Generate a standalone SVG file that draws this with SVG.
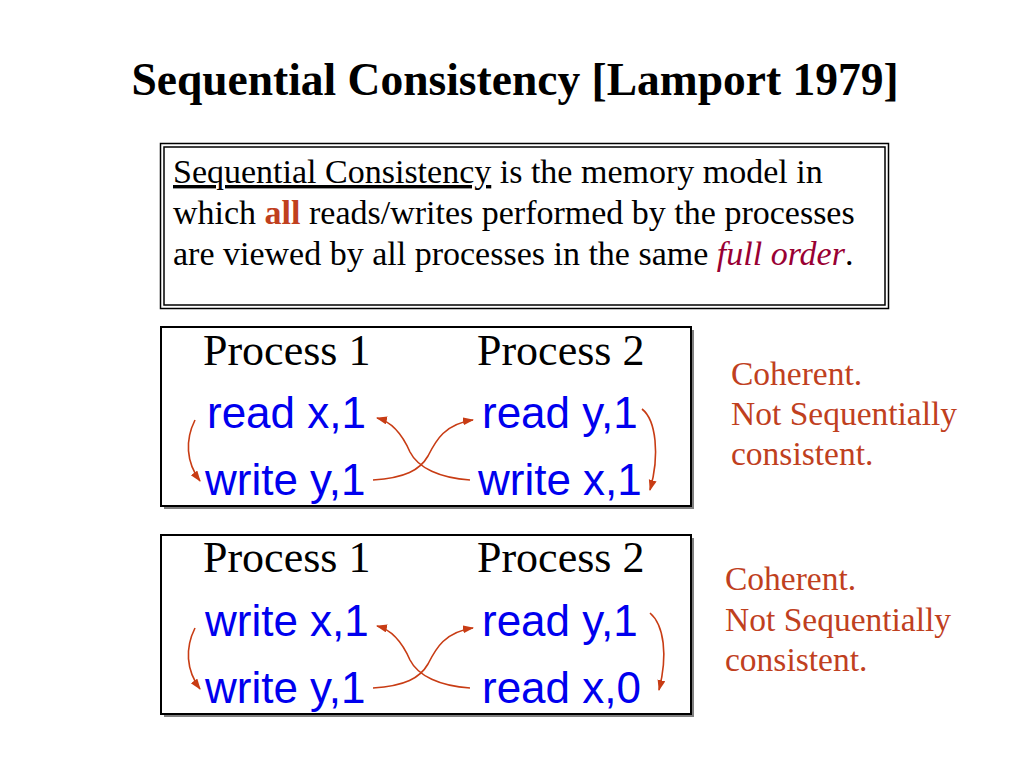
<svg xmlns="http://www.w3.org/2000/svg" width="1024" height="768" viewBox="0 0 1024 768">
<defs>
<marker id="ah" markerUnits="userSpaceOnUse" markerWidth="12" markerHeight="10" refX="10" refY="4" orient="auto">
<path d="M0,0 L11,4 L0,8 z" fill="#c83c14"/>
</marker>
<style>
.serif{font-family:"Liberation Serif","Times New Roman",serif}
.sans{font-family:"Liberation Sans",Arial,sans-serif}
.op{fill:#0000ee;font-size:44px}
.proc{fill:#000;font-size:44px}
.note{fill:#c0401e;font-size:33.5px}
.para{fill:#000;font-size:34px}
.arr{fill:none;stroke:#c83c14;stroke-width:1.6;marker-end:url(#ah)}
.shadow{fill:#808080}
.box{fill:#fff;stroke:#000;stroke-width:2}
</style>
</defs>
<rect width="1024" height="768" fill="#fff"/>
<g id="title">
<text class="serif" x="515" y="95" text-anchor="middle" font-size="45.5" font-weight="bold">Sequential Consistency [Lamport 1979]</text>
</g>
<g id="definition">
<rect x="160.5" y="143.5" width="728" height="165" fill="#fff" stroke="#000" stroke-width="1.5"/>
<rect x="164" y="147" width="721" height="158" fill="none" stroke="#000" stroke-width="1.5"/>
<text class="serif para" x="173" y="183"><tspan text-decoration="underline">Sequential Consistency</tspan> is the memory model in</text>
<text class="serif para" x="173" y="224">which <tspan font-weight="bold" fill="#c0401e">all</tspan> reads/writes performed by the processes</text>
<text class="serif para" x="173" y="265">are viewed by all processes in the same <tspan font-style="italic" fill="#990033">full order</tspan>.</text>
</g>
<g id="example1">
<rect class="shadow" x="164" y="330" width="530" height="179"/>
<rect class="box" x="161" y="327" width="530" height="179"/>
<text class="serif proc" x="203" y="365">Process 1</text>
<text class="serif proc" x="477" y="365">Process 2</text>
<text class="sans op" x="207" y="428">read x,1</text>
<text class="sans op" x="205" y="495">write y,1</text>
<text class="sans op" x="482" y="428">read y,1</text>
<text class="sans op" x="478" y="495">write x,1</text>
</g>
<g id="example2">
<rect class="shadow" x="164" y="538" width="530" height="179"/>
<rect class="box" x="161" y="535" width="530" height="179"/>
<text class="serif proc" x="203" y="572">Process 1</text>
<text class="serif proc" x="477" y="572">Process 2</text>
<text class="sans op" x="205" y="636">write x,1</text>
<text class="sans op" x="205" y="703">write y,1</text>
<text class="sans op" x="482" y="636">read y,1</text>
<text class="sans op" x="482" y="703">read x,0</text>
</g>
<g id="note1">
<text class="serif note" x="731" y="385">Coherent.</text>
<text class="serif note" x="731" y="425">Not Sequentially</text>
<text class="serif note" x="731" y="465">consistent.</text>
</g>
<g id="note2">
<text class="serif note" x="725" y="590">Coherent.</text>
<text class="serif note" x="725" y="631">Not Sequentially</text>
<text class="serif note" x="725" y="671">consistent.</text>
</g>
<g id="connectors">
<path class="arr" d="M195,420 C185,440 186,462 200,481"/>
<path class="arr" d="M373,480 C405,478 420,470 428,456 C436,440 445,424 473,420"/>
<path class="arr" d="M470,480 C440,478 418,468 410,452 C403,436 393,422 377,418"/>
<path class="arr" d="M642,409 C656,420 660,455 650,490"/>
<path class="arr" d="M195,628 C185,648 186,670 200,689"/>
<path class="arr" d="M373,688 C405,686 420,678 428,664 C436,648 445,632 473,628"/>
<path class="arr" d="M470,688 C440,686 418,676 410,660 C403,644 393,630 377,626"/>
<path class="arr" d="M650,613 C664,625 668,655 659,690"/>
</g>
</svg>
